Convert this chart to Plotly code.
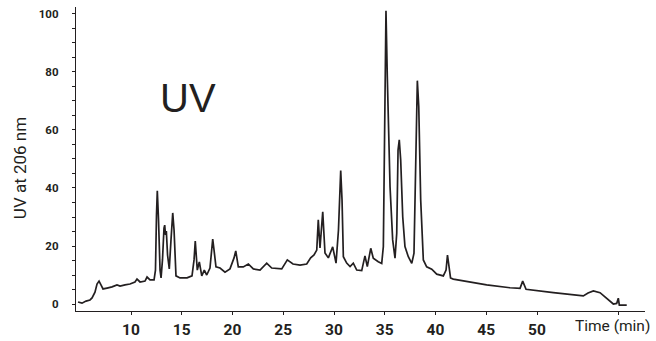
import plotly.graph_objects as go

# Retention time (min) and UV absorbance
time_min = [4.78, 5.17, 5.57, 5.96, 6.16, 6.45, 6.65, 6.85, 7.04, 7.24, 7.64, 8.13, 8.62, 8.92,
            9.41, 9.90, 10.39, 10.59, 10.89, 11.38, 11.58, 11.87, 12.27, 12.41, 12.51, 12.59,
            12.71, 12.86, 12.96, 13.10, 13.25, 13.32, 13.40, 13.48, 13.60, 13.77, 13.94, 14.11,
            14.24, 14.33, 14.43, 14.83, 15.52, 16.01, 16.21, 16.33, 16.43, 16.53, 16.73, 16.97,
            17.22, 17.46, 17.78, 18.05, 18.18, 18.37, 18.77, 19.26, 19.75, 20.15, 20.32, 20.57,
            21.06, 21.56, 22.05, 22.71, 23.37, 23.86, 24.85, 25.40, 25.96, 26.65, 27.31, 27.70,
            28.03, 28.30, 28.45, 28.62, 28.89, 29.11, 29.44, 29.87, 30.20, 30.44, 30.66, 30.79,
            30.92, 31.25, 31.58, 31.90, 32.24, 32.73, 33.05, 33.28, 33.62, 33.87, 34.36, 34.70,
            34.86, 35.02, 35.12, 35.25, 35.52, 35.78, 36.01, 36.18, 36.31, 36.43, 36.57, 36.77,
            36.99, 37.32, 37.66, 37.88, 38.05, 38.21, 38.35, 38.54, 38.80, 39.13, 39.63, 40.12,
            40.77, 41.04, 41.18, 41.33, 41.48, 41.75, 43.07, 45.04, 47.34, 48.33, 48.59, 48.92,
            51.61, 54.56, 55.03, 55.55, 56.21, 56.87, 57.52, 57.85, 58.01, 58.11, 58.84]
uv_206 = [0.7, 0.3, 1.0, 1.4, 2.1, 4.1, 6.9, 7.9, 6.6, 5.2, 5.5, 5.9, 6.6, 6.2,
          6.6, 6.9, 7.6, 8.6, 7.6, 7.9, 9.3, 8.3, 8.3, 11.7, 30.7, 39.0,
          29.0, 11.7, 9.0, 15.2, 26.2, 27.2, 23.8, 25.2, 16.9, 12.1, 22.1, 31.4,
          25.5, 15.2, 9.7, 9.0, 9.0, 9.7, 15.2, 21.7, 16.9, 11.7, 14.5, 9.7,
          11.7, 10.0, 12.4, 22.4, 18.6, 12.8, 12.4, 11.0, 12.1, 15.9, 18.3, 12.8,
          12.8, 13.8, 12.1, 11.7, 14.1, 12.4, 12.1, 15.2, 13.8, 13.4, 13.8, 15.9,
          16.9, 18.6, 29.0, 19.3, 31.8, 17.6, 15.9, 19.7, 14.1, 25.5, 46.0, 35.9,
          16.3, 14.1, 12.9, 14.1, 11.7, 11.5, 16.6, 12.9, 19.2, 15.8, 14.6, 14.0,
          19.8, 81.8, 101.1, 78.4, 40.4, 22.1, 15.8, 24.4, 53.1, 56.6, 49.7, 30.1,
          19.8, 16.3, 14.0, 17.5, 52.0, 77.0, 68.0, 35.9, 15.2, 12.8, 12.0, 10.3,
          9.7, 11.7, 16.9, 11.7, 9.0, 8.6, 7.7, 6.6, 5.6, 5.4, 7.9, 5.1,
          3.9, 2.8, 3.8, 4.5, 3.9, 2.0, 0.0, 0.2, 2.0, -0.4, -0.4]

x_tickvals = [10, 15, 20, 25, 30, 35, 40, 45, 50, 58]
x_ticktext = ["10", "15", "20", "25", "30", "35", "40", "45", "50", ""]
y_tickvals = [0, 20, 40, 60, 80, 100]

INK = "#231f20"
FONT = "Roboto, Liberation Sans, Arial, sans-serif"

fig = go.Figure()
fig.add_trace(go.Scatter(x=time_min, y=uv_206, mode="lines",
                         line=dict(color=INK, width=1.7), showlegend=False,
                         hoverinfo="skip"))

fig.update_layout(
    width=656, height=341,
    margin=dict(l=76, r=11, t=7, b=30, autoexpand=False),
    paper_bgcolor="white", plot_bgcolor="white",
    showlegend=False,
    xaxis=dict(range=[4.58, 60.64], tickvals=x_tickvals, ticktext=x_ticktext,
               automargin=False,
               showline=True, linecolor=INK, linewidth=1.3,
               ticks="outside", ticklen=3, tickwidth=1.3, tickcolor=INK,
               showgrid=False, zeroline=False,
               tickfont=dict(family=FONT, size=15.5, color=INK, weight="bold"),
               ticklabelstandoff=1),
    yaxis=dict(range=[-2.41, 102.4], tickvals=y_tickvals,
               automargin=False,
               showline=True, linecolor=INK, linewidth=1.3,
               ticks="outside", ticklen=3, tickwidth=1.3, tickcolor=INK,
               minor=dict(dtick=5, tick0=0, ticks="outside", ticklen=3, tickwidth=1.3, tickcolor=INK),
               showgrid=False, zeroline=False,
               tickfont=dict(family=FONT, size=11.5, color=INK, weight="bold"),
               ticklabelstandoff=11),
    annotations=[
        dict(text="UV", xref="paper", yref="paper", x=0.197, y=0.702,
             xanchor="center", yanchor="middle", showarrow=False,
             font=dict(family="Liberation Sans, Arial, sans-serif", size=40, color=INK)),
        dict(text="Time (min)", xref="paper", yref="paper", x=0.873, y=-0.049,
             xanchor="left", yanchor="middle", showarrow=False,
             font=dict(family=FONT, size=15.5, color=INK)),
        dict(text="UV at 206 nm", xref="paper", yref="paper", x=-0.0984, y=0.47,
             xanchor="center", yanchor="middle", showarrow=False, textangle=-90,
             font=dict(family=FONT, size=17, color=INK)),
    ],
)

fig.write_html("out.html", config={"displayModeBar": False},
               post_script="document.body.style.margin='0';document.body.style.overflow='hidden';")
